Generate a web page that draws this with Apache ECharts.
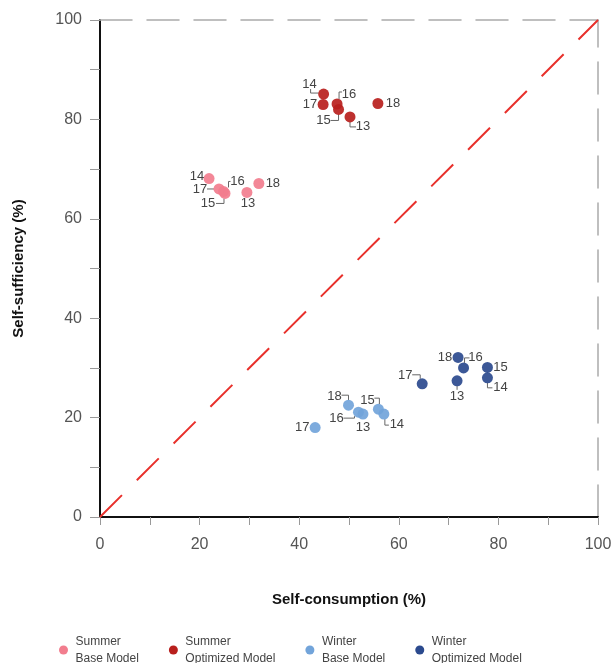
<!DOCTYPE html>
<html>
<head>
<meta charset="utf-8">
<title></title>
<script src="https://cdn.jsdelivr.net/npm/echarts@6/dist/echarts.min.js"></script>
<style>
html, body { margin: 0; padding: 0; background: #fff; }
#chart { width: 611px; height: 663px; }
</style>
</head>
<body>
<div id="chart"></div>
<script type="text/javascript">
var years = ['13', '14', '15', '16', '17', '18'];

var summerBaseX = [29.5, 21.9, 25.1, 24.8, 23.9, 31.9];
var summerBaseY = [65.3, 68.1, 65.1, 65.5, 66.0, 67.1];
var summerOptX = [50.2, 44.9, 47.9, 47.6, 44.8, 55.8];
var summerOptY = [80.5, 85.1, 82.0, 83.1, 83.0, 83.2];
var winterBaseX = [52.8, 57.0, 55.9, 51.9, 43.2, 49.9];
var winterBaseY = [20.7, 20.7, 21.7, 21.1, 18.0, 22.5];
var winterOptX = [71.7, 77.8, 77.8, 73.0, 64.7, 71.9];
var winterOptY = [27.4, 28.0, 30.1, 30.0, 26.8, 32.1];

var diagX = [0, 100];
var diagY = [0, 100];
var tickLabels = [0, 20, 40, 60, 80, 100];

var seriesNames = ['Summer\nBase Model', 'Summer\nOptimized Model', 'Winter\nBase Model', 'Winter\nOptimized Model'];
var colors = ['#f27d8e', '#b81f1d', '#72a4da', '#2b4a8e'];

// label offsets (px) from the dot, and leader line points
var summerBaseLbl = {
	'13': { dx: 1, dy: 11 },
	'14': { dx: -12, dy: -2 },
	'15': { dx: -17, dy: 10, line: [[-1, 5], [-1, 10], [-9, 10]] },
	'16': { dx: 14, dy: -10, line: [[5, -4], [5, -10], [7, -10]] },
	'17': { dx: -19, dy: 0, line: [[-12, 0], [-5, 0]] },
	'18': { dx: 14, dy: 0 }
};
var summerOptLbl = {
	'13': { dx: 13, dy: 10, line: [[0, 5], [0, 10], [6, 10]] },
	'14': { dx: -14, dy: -10, line: [[-13, -5], [-13, -1], [-5, -1]] },
	'15': { dx: -15, dy: 11, line: [[0, 5], [0, 11], [-8, 11]] },
	'16': { dx: 12, dy: -10, line: [[2, -5], [2, -12], [5, -12]] },
	'17': { dx: -13, dy: 0 },
	'18': { dx: 15, dy: 0 }
};
var winterBaseLbl = {
	'13': { dx: 0, dy: 13 },
	'14': { dx: 13, dy: 10, line: [[1, 5], [1, 11], [5, 11]] },
	'15': { dx: -11, dy: -9, line: [[1, -5], [1, -11], [-4, -11]] },
	'16': { dx: -22, dy: 6, line: [[-4, 4], [-4, 6], [-15, 6]] },
	'17': { dx: -13, dy: 0 },
	'18': { dx: -14, dy: -9, line: [[0, -5], [0, -10], [-7, -10]] }
};
var winterOptLbl = {
	'13': { dx: 0, dy: 16, line: [[0, 5], [0, 9]] },
	'14': { dx: 13, dy: 10, line: [[0, 5], [0, 10], [5, 10]] },
	'15': { dx: 13, dy: 0 },
	'16': { dx: 12, dy: -10, line: [[1, -5], [1, -10], [6, -10]] },
	'17': { dx: -17, dy: -8, line: [[-2, -5], [-2, -9], [-10, -9]] },
	'18': { dx: -13, dy: 0 }
};

var fontFam = 'Liberation Sans, Arial, sans-serif';

function pairs(xs, ys) {
	var out = [];
	for (var i = 0; i < xs.length; i++) {
		out.push([xs[i], ys[i], i]);
	}
	return out;
}

function makeRender(lbls) {
	return function (params, api) {
		var pt = api.coord([api.value(0), api.value(1)]);
		var yr = years[api.value(2)];
		var l = lbls[yr];
		var kids = [];
		if (l.line) {
			var pts = [];
			for (var i = 0; i < l.line.length; i++) {
				pts.push([pt[0] + l.line[i][0], pt[1] + l.line[i][1]]);
			}
			kids.push({
				type: 'polyline',
				shape: { points: pts },
				style: { stroke: '#666', lineWidth: 1, fill: null }
			});
		}
		kids.push({
			type: 'circle',
			shape: { cx: pt[0], cy: pt[1], r: 5.5 },
			style: { fill: api.visual('color'), opacity: 0.92 }
		});
		kids.push({
			type: 'text',
			style: {
				text: yr, x: pt[0] + l.dx, y: pt[1] + l.dy,
				align: 'center', verticalAlign: 'middle',
				fontSize: 13, fill: '#444', fontFamily: fontFam
			}
		});
		return { type: 'group', children: kids };
	};
}

function groupSeries(idx, xs, ys, lbls) {
	return {
		type: 'custom',
		name: seriesNames[idx],
		itemStyle: { color: colors[idx] },
		renderItem: makeRender(lbls),
		encode: { x: 0, y: 1 },
		data: pairs(xs, ys),
		z: 5
	};
}

var myChart = echarts.init(document.getElementById('chart'));
var option = {
	animation: false,
	textStyle: { fontFamily: fontFam },
	grid: { left: 100, right: 13, top: 20, bottom: 146, outerBoundsMode: 'none' },
	legend: {
		left: 54,
		top: 628,
		itemGap: 30,
		itemWidth: 14,
		itemHeight: 9,
		icon: 'circle',
		textStyle: { fontSize: 12, lineHeight: 17, color: '#444', fontFamily: fontFam },
		data: seriesNames
	},
	xAxis: [{
		type: 'value',
		min: 0, max: 100, interval: 10,
		name: 'Self-consumption (%)',
		nameLocation: 'middle',
		nameGap: 75,
		nameTextStyle: { fontSize: 15, fontWeight: 'bold', color: '#111' },
		axisLine: { onZero: false, lineStyle: { color: '#111', width: 2 } },
		axisTick: { length: 8, lineStyle: { color: '#999' } },
		axisLabel: {
			margin: 20, fontSize: 16, color: '#555',
			formatter: function (v) { return tickLabels.indexOf(v) >= 0 ? v : ''; }
		},
		splitLine: { show: false }
	}, {
		type: 'value',
		position: 'top',
		min: 0, max: 100,
		axisLine: { show: true, onZero: false, lineStyle: { color: '#aaa', width: 1.5, type: [32, 15] } },
		axisTick: { show: false },
		axisLabel: { show: false },
		splitLine: { show: false }
	}],
	yAxis: [{
		type: 'value',
		min: 0, max: 100, interval: 10,
		name: 'Self-sufficiency (%)',
		nameLocation: 'middle',
		nameGap: 74,
		nameTextStyle: { fontSize: 15, fontWeight: 'bold', color: '#111' },
		axisLine: { show: true, onZero: false, lineStyle: { color: '#111', width: 2 } },
		axisTick: { show: true, length: 10, lineStyle: { color: '#999' } },
		axisLabel: {
			margin: 18, fontSize: 16, color: '#555',
			formatter: function (v) { return tickLabels.indexOf(v) >= 0 ? v : ''; }
		},
		splitLine: { show: false }
	}, {
		type: 'value',
		position: 'right',
		min: 0, max: 100,
		axisLine: { show: true, onZero: false, lineStyle: { color: '#aaa', width: 1.5, type: [32, 15] } },
		axisTick: { show: false },
		axisLabel: { show: false },
		splitLine: { show: false }
	}],
	series: [{
		type: 'line',
		data: pairs(diagX, diagY),
		symbol: 'none',
		silent: true,
		lineStyle: { color: '#e8302b', width: 2, type: [31, 21] },
		z: 2
	},
		groupSeries(0, summerBaseX, summerBaseY, summerBaseLbl),
		groupSeries(1, summerOptX, summerOptY, summerOptLbl),
		groupSeries(2, winterBaseX, winterBaseY, winterBaseLbl),
		groupSeries(3, winterOptX, winterOptY, winterOptLbl)
	]
};
myChart.setOption(option);
</script>
</body>
</html>
